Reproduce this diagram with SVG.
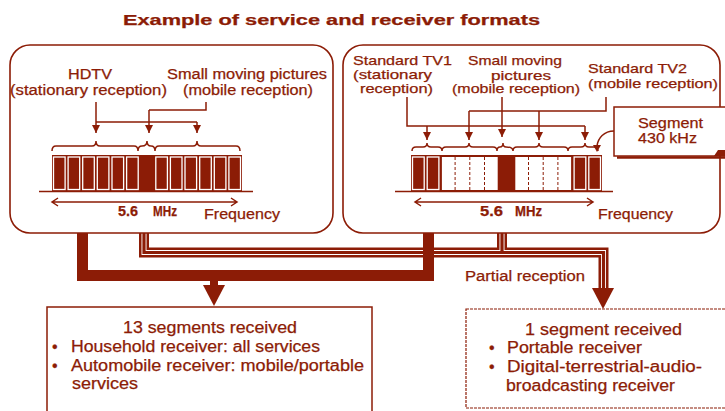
<svg xmlns="http://www.w3.org/2000/svg" width="725" height="411" viewBox="0 0 725 411">
<defs>
<style>
.t{font-family:"Liberation Sans",Arial,sans-serif;fill:#8c1c06;font-size:14px;stroke:#8c1c06;stroke-width:0.25}
.s{font-size:13px}
.b{font-size:16px}
.bold{font-weight:bold}
.ln{fill:none;stroke:#8c1c06;stroke-width:1.5}
.panel{fill:#fff;stroke:#8c1c06;stroke-width:1.6}
.dk{fill:#8c1c06}
.seg{fill:none;stroke:#fff;stroke-width:1.3}
.dash{stroke:#8c1c06;stroke-width:1;stroke-dasharray:3 2}
</style>
<marker id="ah" viewBox="0 0 8 8" refX="8" refY="4" markerWidth="8" markerHeight="8" markerUnits="userSpaceOnUse" orient="auto">
<path d="M0,0 L8,4 L0,8 Z" fill="#8c1c06"/>
</marker>
</defs>
<rect width="725" height="411" fill="#fff"/>
<text id="title" class="t bold" x="123" y="25" font-size="20" textLength="417" lengthAdjust="spacingAndGlyphs">Example of service and receiver formats</text>

<g id="connectors">
<g id="partial">
<path d="M144,218 V252.5 H603.5 V290 M502,218 V252.5" fill="none" stroke="#8c1c06" stroke-width="10"/>
<path d="M144,218 V252.5 H603.5 V290 M502,218 V252.5" fill="none" stroke="#fff" stroke-width="5"/>
<path d="M144,218 V252.5 H603.5 V290 M502,218 V252.5" fill="none" stroke="#8c1c06" stroke-width="3.2"/>
<polygon points="592,288 614,288 603,309" class="dk"/>
</g>
<g id="full">
<path d="M82.5,232 V275.5 H428.5 V232" fill="none" stroke="#8c1c06" stroke-width="11"/>
<rect x="210" y="280" width="8" height="6" class="dk"/>
<polygon points="203,285 225,285 214,306" class="dk"/>
</g>
<text class="t" x="465" y="281" font-size="15" textLength="120" lengthAdjust="spacingAndGlyphs">Partial reception</text>
</g>

<g id="left-panel">
<rect class="panel" x="10" y="45" width="323" height="188" rx="20"/>
<text class="t" x="68" y="79" textLength="44" lengthAdjust="spacingAndGlyphs">HDTV</text>
<text class="t" x="10" y="95" textLength="157" lengthAdjust="spacingAndGlyphs">(stationary reception)</text>
<text class="t" x="167" y="79" textLength="160" lengthAdjust="spacingAndGlyphs">Small moving pictures</text>
<text class="t" x="183" y="95" textLength="130" lengthAdjust="spacingAndGlyphs">(mobile reception)</text>
<path class="ln" d="M96,122 H197 M206,102 V110 H149"/>
<path class="ln" d="M96,102 V133" marker-end="url(#ah)"/>
<path class="ln" d="M197,122 V133" marker-end="url(#ah)"/>
<path class="ln" d="M149,110 V133" marker-end="url(#ah)"/>
<path class="ln" d="M52,151 Q52,146 56,146 L92,146 Q96,146 96,141 Q96,146 100,146 L134,146 Q138,146 138,151 M138,151 Q138,146 142,146 Q147,146 147,141 Q147,146 151,146 Q155,146 155,151 M155,151 Q155,146 159,146 L193,146 Q197,146 197,141 Q197,146 201,146 L236,146 Q240,146 240,151"/>
<line x1="39" y1="191.5" x2="253" y2="191.5" stroke="#8c1c06" stroke-width="1.3"/>
<rect x="52" y="155" width="190" height="37" class="dk"/>
<g>
<rect class="seg" x="53.5" y="157" width="11.6" height="32.5"/>
<rect class="seg" x="68.1" y="157" width="11.6" height="32.5"/>
<rect class="seg" x="82.7" y="157" width="11.6" height="32.5"/>
<rect class="seg" x="97.3" y="157" width="11.6" height="32.5"/>
<rect class="seg" x="112" y="157" width="11.6" height="32.5"/>
<rect class="seg" x="126.6" y="157" width="11.6" height="32.5"/>
<rect class="seg" x="155.8" y="157" width="11.6" height="32.5"/>
<rect class="seg" x="170.4" y="157" width="11.6" height="32.5"/>
<rect class="seg" x="185" y="157" width="11.6" height="32.5"/>
<rect class="seg" x="199.7" y="157" width="11.6" height="32.5"/>
<rect class="seg" x="214.3" y="157" width="11.6" height="32.5"/>
<rect class="seg" x="228.9" y="157" width="11.6" height="32.5"/>
</g>
<path class="ln" d="M52,202 H237 M58,198 L52,202 L58,206 M231,198 L237,202 L231,206" stroke-width="1.3"/>
<text class="t bold" x="118" y="216" font-size="12" textLength="20" lengthAdjust="spacingAndGlyphs">5.6</text>
<text class="t bold" x="153" y="216" font-size="12" textLength="24" lengthAdjust="spacingAndGlyphs">MHz</text>
<text class="t" x="204" y="219" font-size="15" textLength="76" lengthAdjust="spacingAndGlyphs">Frequency</text>
</g>

<g id="right-panel">
<rect class="panel" x="343" y="45" width="377" height="188" rx="20"/>
<text class="t s" x="353" y="65" textLength="99" lengthAdjust="spacingAndGlyphs">Standard TV1</text>
<text class="t s" x="353" y="79" textLength="79" lengthAdjust="spacingAndGlyphs">(stationary</text>
<text class="t s" x="360" y="93" textLength="73" lengthAdjust="spacingAndGlyphs">reception)</text>
<text class="t s" x="468" y="64.5" textLength="94" lengthAdjust="spacingAndGlyphs">Small moving</text>
<text class="t s" x="491" y="79.5" textLength="60" lengthAdjust="spacingAndGlyphs">pictures</text>
<text class="t s" x="452" y="93" textLength="128" lengthAdjust="spacingAndGlyphs">(mobile reception)</text>
<text class="t s" x="588" y="73" textLength="99" lengthAdjust="spacingAndGlyphs">Standard TV2</text>
<text class="t s" x="588" y="88" textLength="130" lengthAdjust="spacingAndGlyphs">(mobile reception)</text>
<path class="ln" d="M407,97 V126 H585 M606,97 V111 H469"/>
<path class="ln" d="M427,126 V140" marker-end="url(#ah)"/>
<path class="ln" d="M585,126 V140" marker-end="url(#ah)"/>
<path class="ln" d="M502,97 V137" marker-end="url(#ah)"/>
<path class="ln" d="M469,111 V140" marker-end="url(#ah)"/>
<path class="ln" d="M539,111 V140" marker-end="url(#ah)"/>
<path class="ln" d="M412,151 Q412,147 416,147 L423,147 Q427,147 427,143 Q427,147 431,147 L438,147 Q442,147 442,151 M442,151 Q442,147 446,147 L465,147 Q469,147 469,143 Q469,147 473,147 L493,147 Q497,147 497,151 M497,151 Q497,147 500,147 Q503,147 503,143 Q503,147 506,147 Q513,147 513,151 M513,151 Q513,147 517,147 L535,147 Q539,147 539,143 Q539,147 543,147 L564,147 Q568,147 568,151 M568,151 Q568,147 572,147 L581,147 Q585,147 585,143 Q585,147 589,147 L594,147 Q598,147 598,151"/>
<line x1="395" y1="191.5" x2="613" y2="191.5" stroke="#8c1c06" stroke-width="1.3"/>
<rect x="411" y="155" width="191" height="37" class="dk"/>
<rect class="seg" x="412.5" y="157" width="11.7" height="32.5"/>
<rect class="seg" x="427.2" y="157" width="11.7" height="32.5"/>
<rect class="seg" x="574.1" y="157" width="11.7" height="32.5"/>
<rect class="seg" x="588.8" y="157" width="11.7" height="32.5"/>
<rect x="441.9" y="157" width="55.8" height="33" fill="#fff"/>
<rect x="515.3" y="157" width="55.8" height="33" fill="#fff"/>
<line class="dash" x1="455.1" y1="157" x2="455.1" y2="190"/>
<line class="dash" x1="469.8" y1="157" x2="469.8" y2="190"/>
<line class="dash" x1="484.5" y1="157" x2="484.5" y2="190"/>
<line class="dash" x1="528.5" y1="157" x2="528.5" y2="190"/>
<line class="dash" x1="543.2" y1="157" x2="543.2" y2="190"/>
<line class="dash" x1="557.9" y1="157" x2="557.9" y2="190"/>
<path class="ln" d="M415,202 H593 M421,198 L415,202 L421,206 M587,198 L593,202 L587,206" stroke-width="1.3"/>
<text class="t bold" x="480" y="216" font-size="12" textLength="23" lengthAdjust="spacingAndGlyphs">5.6</text>
<text class="t bold" x="515" y="216" font-size="12" textLength="27" lengthAdjust="spacingAndGlyphs">MHz</text>
<text class="t" x="598" y="219" font-size="15" textLength="75" lengthAdjust="spacingAndGlyphs">Frequency</text>
</g>

<g id="segment-callout">
<line x1="617" y1="157.5" x2="726" y2="157.5" stroke="#8c1c06" stroke-width="2.5"/>
<rect x="614" y="107" width="113" height="49" fill="#fff" stroke="#8c1c06" stroke-width="1.5"/>
<polygon points="714,156 718,150 726,150 726,156" class="dk"/>
<path class="ln" d="M614,131 C604,131 598,138 597,146"/>
<polygon points="593,145 601,145 597,152" class="dk"/>
<text class="t" x="638" y="128" font-size="15" textLength="65" lengthAdjust="spacingAndGlyphs">Segment</text>
<text class="t" x="638" y="143" font-size="15" textLength="59" lengthAdjust="spacingAndGlyphs">430 kHz</text>
</g>

<g id="box-13seg">
<rect x="47" y="307" width="325" height="120" fill="#fff" stroke="#8c1c06" stroke-width="1.5"/>
<text class="t b" x="123" y="333" textLength="174" lengthAdjust="spacingAndGlyphs">13 segments received</text>
<text class="t b" x="52" y="352">•</text>
<text class="t b" x="71" y="352" textLength="249" lengthAdjust="spacingAndGlyphs">Household receiver: all services</text>
<text class="t b" x="52" y="371">•</text>
<text class="t b" x="71" y="371" textLength="293" lengthAdjust="spacingAndGlyphs">Automobile receiver: mobile/portable</text>
<text class="t b" x="72" y="389" textLength="66" lengthAdjust="spacingAndGlyphs">services</text>
</g>

<g id="box-1seg">
<rect x="466" y="309" width="270" height="99" fill="#fff" stroke="#8c1c06" stroke-width="1.2" stroke-dasharray="3 1"/>
<text class="t b" x="525" y="335" textLength="157" lengthAdjust="spacingAndGlyphs">1 segment received</text>
<text class="t b" x="489" y="353">•</text>
<text class="t b" x="507" y="353" textLength="135" lengthAdjust="spacingAndGlyphs">Portable receiver</text>
<text class="t b" x="489" y="372">•</text>
<text class="t b" x="507" y="372" textLength="195" lengthAdjust="spacingAndGlyphs">Digital-terrestrial-audio-</text>
<text class="t b" x="506" y="391" textLength="169" lengthAdjust="spacingAndGlyphs">broadcasting receiver</text>
</g>
</svg>
